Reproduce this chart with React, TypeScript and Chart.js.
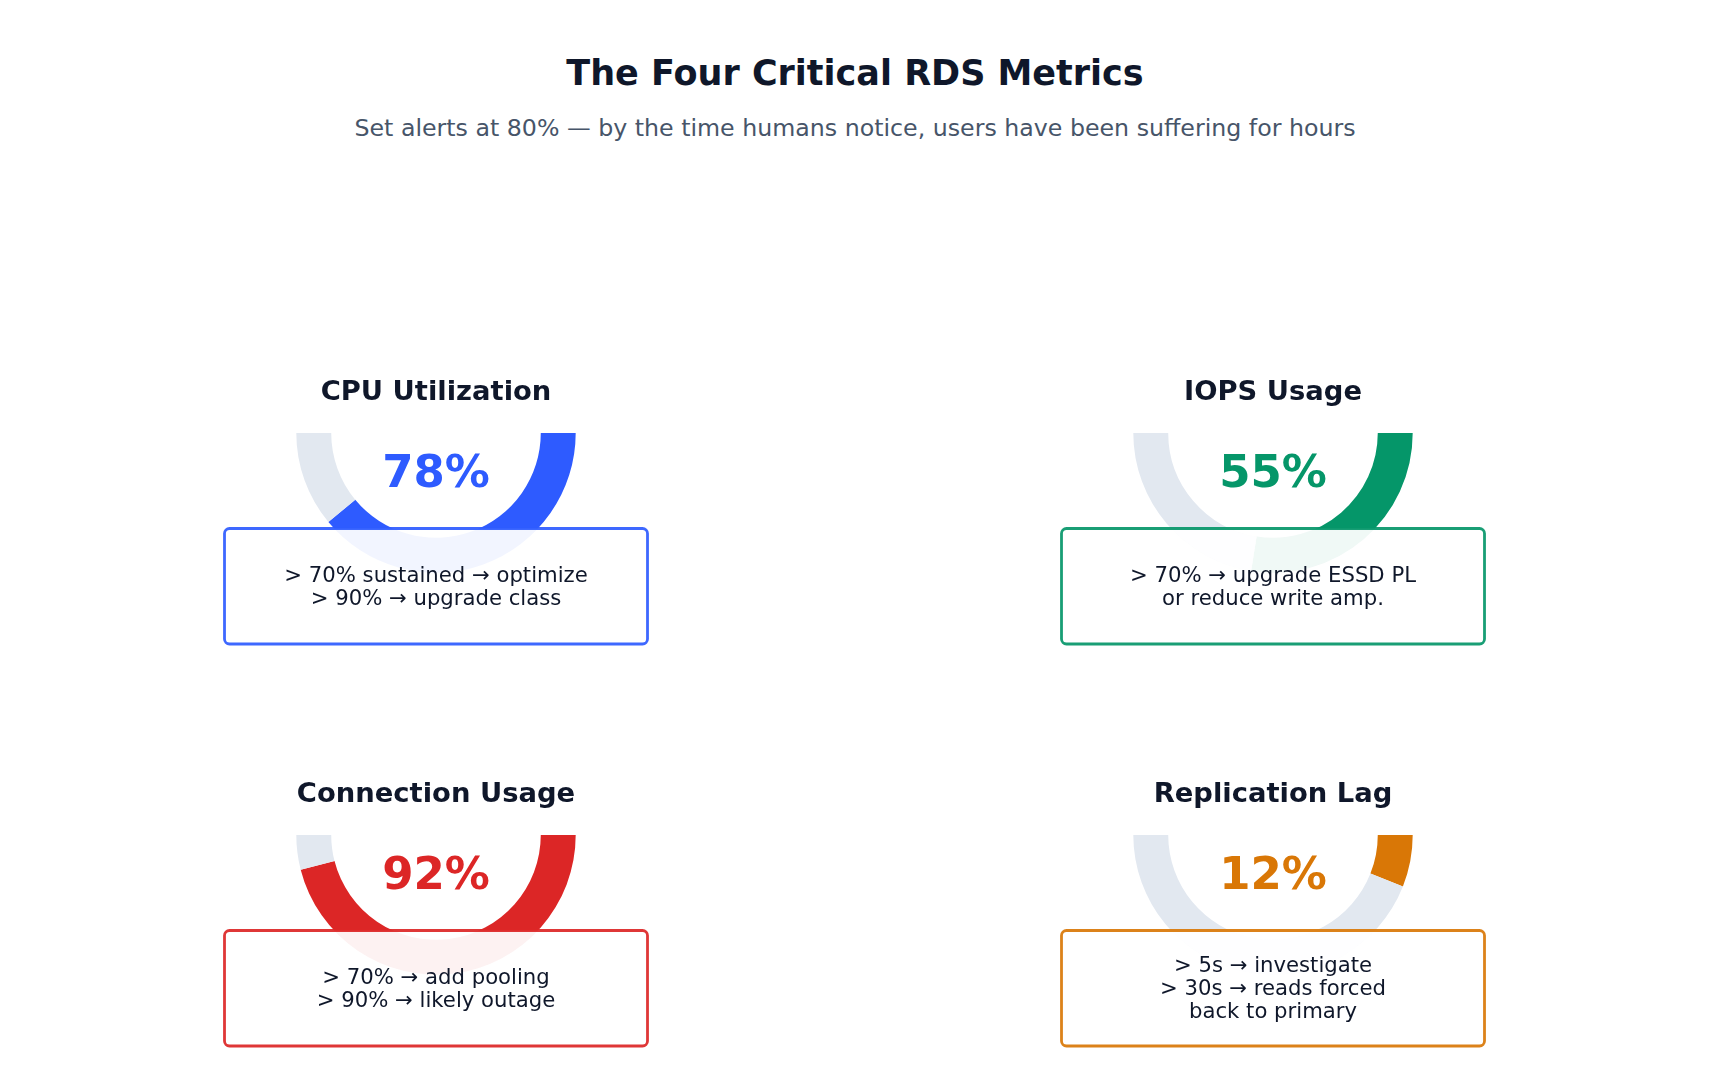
import React, { useEffect, useRef } from 'react';
import { Chart, registerables } from 'chart.js';

Chart.register(...registerables);

const pageTitle = 'The Four Critical RDS Metrics';
const pageSubtitle = 'Set alerts at 80% — by the time humans notice, users have been suffering for hours';

const metricNames = ['CPU Utilization', 'IOPS Usage', 'Connection Usage', 'Replication Lag'];
const metricValues = [78, 55, 92, 12];
const metricNotes = [
  ['> 70% sustained → optimize', '> 90% → upgrade class'],
  ['> 70% → upgrade ESSD PL', 'or reduce write amp.'],
  ['> 70% → add pooling', '> 90% → likely outage'],
  ['> 5s → investigate', '> 30s → reads forced', 'back to primary'],
];
const metricColors = ['#2E5BFF', '#059669', '#DC2626', '#D97706'];
const trackColor = '#E2E8F0';

const FONT = '"DejaVu Sans", "Noto Sans", sans-serif';
const CW = 500;
const CH = 320;
const CX = 250;
const CY = 90;
const R = 139.7;

const positions = [
  { left: 186, top: 343 },
  { left: 1023, top: 343 },
  { left: 186, top: 745 },
  { left: 1023, top: 745 },
];

function Gauge({ index }: { index: number }) {
  const ref = useRef<HTMLCanvasElement | null>(null);
  useEffect(() => {
    if (!ref.current) return;
    const value = metricValues[index];
    const color = metricColors[index];
    const decor = {
      id: 'gaugeDecor',
      afterDraw(chart: any) {
        const ctx = chart.ctx as CanvasRenderingContext2D;
        const arc: any = chart.getDatasetMeta(0).data[0];
        const x = arc.x;
        const y = arc.y;
        ctx.save();
        // box
        const bw = 423;
        const bTop = y + 95.5;
        const bBot = y + 211;
        ctx.beginPath();
        (ctx as any).roundRect(x - bw / 2, bTop, bw, bBot - bTop, 5);
        ctx.fillStyle = 'rgba(255,255,255,0.94)';
        ctx.fill();
        ctx.lineWidth = 2.8;
        ctx.strokeStyle = color;
        ctx.globalAlpha = 0.92;
        ctx.stroke();
        ctx.globalAlpha = 1;
        // title
        ctx.textAlign = 'center';
        ctx.textBaseline = 'middle';
        ctx.fillStyle = '#0F172A';
        ctx.font = `bold 27.4px ${FONT}`;
        ctx.fillText(metricNames[index], x, y - 39.8);
        // percent
        ctx.fillStyle = color;
        ctx.font = `bold 45px ${FONT}`;
        ctx.fillText(`${value}%`, x, y + 42.3);
        // notes
        const lines = metricNotes[index];
        const lh = 23;
        const cy = (bTop + bBot) / 2 + 1.6;
        ctx.fillStyle = '#0F172A';
        ctx.font = `21.2px ${FONT}`;
        lines.forEach((ln, i) => {
          ctx.fillText(ln, x, cy + (i - (lines.length - 1) / 2) * lh);
        });
        ctx.restore();
      },
    };
    const chart = new Chart(ref.current, {
      type: 'doughnut',
      data: {
        labels: ['Used', 'Remaining'],
        datasets: [
          {
            data: [value, 100 - value],
            backgroundColor: [color, trackColor],
            borderWidth: 0,
          },
        ],
      },
      options: {
        responsive: false,
        animation: false,
        rotation: 90,
        circumference: 180,
        cutout: '75%',
        events: [],
        layout: {
          padding: { left: CX - R, right: CW - CX - R, top: CY, bottom: CH - CY - R },
        },
        plugins: {
          legend: { display: false },
          tooltip: { enabled: false },
        },
      },
      plugins: [decor],
    } as any);
    return () => chart.destroy();
  }, [index]);
  const p = positions[index];
  return (
    <canvas
      ref={ref}
      width={CW}
      height={CH}
      style={{ position: 'absolute', left: p.left, top: p.top, width: CW, height: CH }}
    />
  );
}

export default function App() {
  return (
    <div
      style={{
        position: 'absolute',
        left: 0,
        top: 0,
        width: 1710,
        height: 1075,
        background: '#FFFFFF',
        overflow: 'hidden',
        fontFamily: FONT,
      }}
    >
      <div
        style={{
          position: 'absolute',
          left: 0,
          top: 48,
          width: 1710,
          height: 50,
          lineHeight: '50px',
          textAlign: 'center',
          fontWeight: 'bold',
          fontSize: 35,
          color: '#0F172A',
        }}
      >
        {pageTitle}
      </div>
      <div
        style={{
          position: 'absolute',
          left: 0,
          top: 113,
          width: 1710,
          height: 30,
          lineHeight: '30px',
          textAlign: 'center',
          fontSize: 23.7,
          color: '#475569',
        }}
      >
        {pageSubtitle}
      </div>
      {metricNames.map((_, i) => (
        <Gauge key={i} index={i} />
      ))}
    </div>
  );
}
